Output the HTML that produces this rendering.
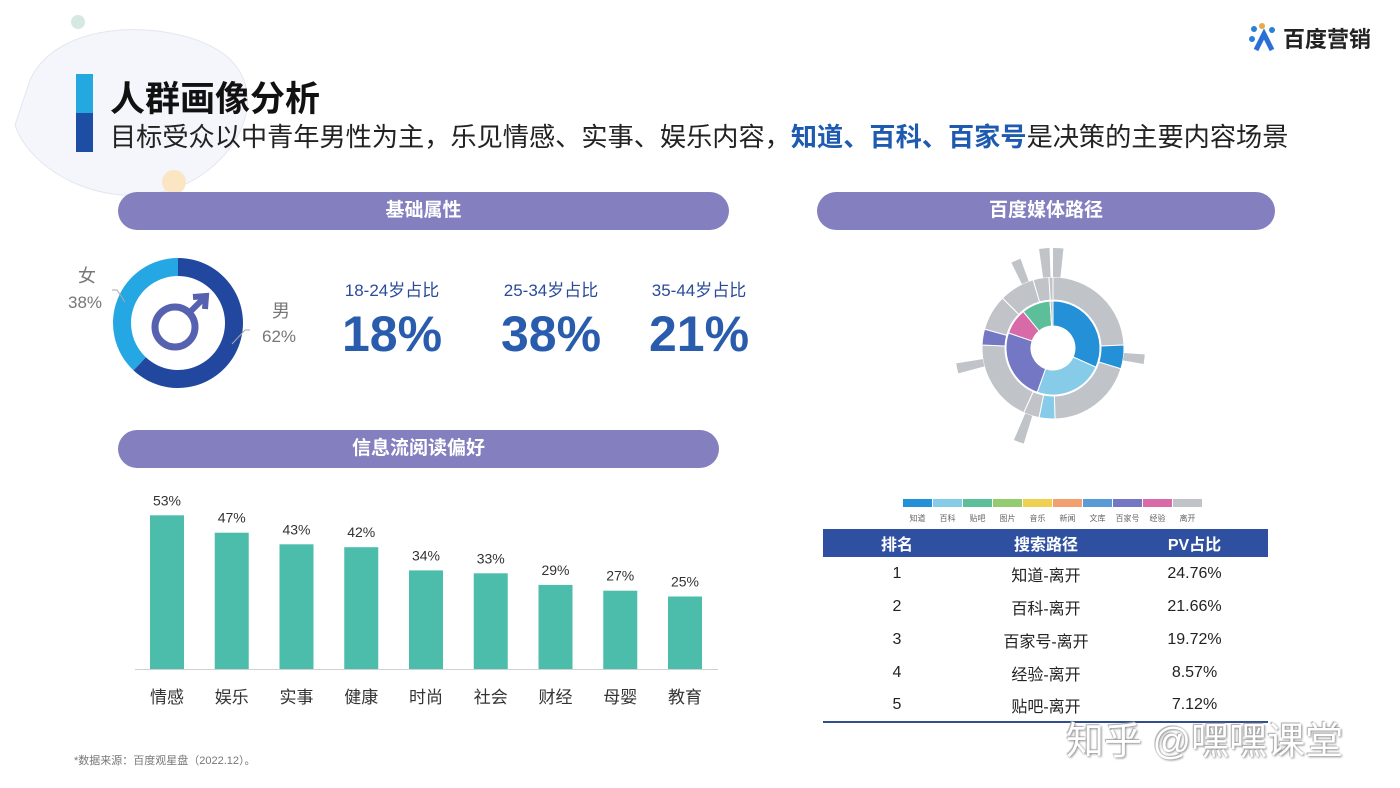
<!DOCTYPE html>
<html><head><meta charset="utf-8">
<style>
*{margin:0;padding:0;box-sizing:border-box}
body{width:1400px;height:788px;position:relative;background:#fff;font-family:"Liberation Sans","Noto Sans CJK SC",sans-serif;overflow:hidden}
.abs{position:absolute}
.pill{position:absolute;height:38px;border-radius:19px;background:#8480bf;color:#fff;font-weight:bold;font-size:19px;text-align:center;line-height:38px}
.age-l{position:absolute;font-size:17px;color:#2a4b9b;width:160px;text-align:center}
.age-v{position:absolute;font-size:50px;font-weight:bold;color:#2a5cad;width:160px;text-align:center}
table{border-collapse:collapse}
</style></head><body>
<svg class="abs" style="left:0;top:0" width="340" height="200">
<path d="M30,80 C60,15 180,20 225,55 C275,95 235,170 170,190 C100,210 30,170 15,125 Z" fill="#f5f6fb" stroke="#e4e6f0"/>
<circle cx="78" cy="22" r="7" fill="#d6e8e2"/>
<circle cx="174" cy="182" r="12" fill="#fbe6c4"/>
</svg>
<div class="abs" style="left:76px;top:74px;width:17px;height:39px;background:#23a8e0"></div>
<div class="abs" style="left:76px;top:113px;width:17px;height:39px;background:#1e4ea3"></div>
<div class="abs" style="left:110px;top:71px;font-size:35px;font-weight:bold;color:#111">人群画像分析</div>
<div class="abs" style="left:110px;top:116px;font-size:26.2px;color:#222;white-space:nowrap">目标受众以中青年男性为主，乐见情感、实事、娱乐内容，<b style="color:#1e5bb0">知道、百科、百家号</b>是决策的主要内容场景</div>
<div class="abs" style="left:1248px;top:22px;width:32px;height:30px">
<svg width="32" height="30"><circle cx="6" cy="7" r="3" fill="#2a7fd8"/><circle cx="14" cy="4" r="3" fill="#e7a94a"/><circle cx="24" cy="8" r="3" fill="#2a7fd8"/><circle cx="4" cy="17" r="3" fill="#2a7fd8"/><path d="M8,28 L16,12 L24,28" stroke="#2a6fd8" stroke-width="5" fill="none"/></svg></div>
<div class="abs" style="left:1283px;top:22px;font-size:22px;font-weight:bold;color:#222">百度营销</div>

<div class="pill" style="left:118px;top:192px;width:611px">基础属性</div>
<div class="pill" style="left:817px;top:192px;width:458px">百度媒体路径</div>
<div class="pill" style="left:118px;top:430px;width:601px">信息流阅读偏好</div>

<svg class="abs" style="left:60px;top:250px" width="260" height="150" id="donut"></svg>
<div class="abs" style="left:78px;top:262px;font-size:18px;color:#777">女</div>
<div class="abs" style="left:68px;top:293px;font-size:17px;color:#777">38%</div>
<div class="abs" style="left:272px;top:297px;font-size:18px;color:#777">男</div>
<div class="abs" style="left:262px;top:327px;font-size:17px;color:#777">62%</div>

<div class="age-l" style="left:312px;top:276px">18-24岁占比</div>
<div class="age-v" style="left:312px;top:305px">18%</div>
<div class="age-l" style="left:471px;top:276px">25-34岁占比</div>
<div class="age-v" style="left:471px;top:305px">38%</div>
<div class="age-l" style="left:619px;top:276px">35-44岁占比</div>
<div class="age-v" style="left:619px;top:305px">21%</div>

<svg class="abs" style="left:0;top:470px" width="760" height="250" id="bars"></svg>

<svg class="abs" style="left:920px;top:240px" width="280" height="230" id="sun"></svg>
<svg class="abs" style="left:900px;top:496px" width="310" height="30" id="legend"></svg>

<table class="abs" style="left:823px;top:529px;width:445px;font-size:16px;color:#222">
<tr style="background:#2f4fa0;color:#fff;font-weight:bold;height:28px"><td style="width:148px;text-align:center">排名</td><td style="width:150px;text-align:center">搜索路径</td><td style="text-align:center">PV占比</td></tr>
<tr style="height:33px"><td align="center">1</td><td align="center">知道-离开</td><td align="center">24.76%</td></tr>
<tr style="height:33px"><td align="center">2</td><td align="center">百科-离开</td><td align="center">21.66%</td></tr>
<tr style="height:33px"><td align="center">3</td><td align="center">百家号-离开</td><td align="center">19.72%</td></tr>
<tr style="height:33px"><td align="center">4</td><td align="center">经验-离开</td><td align="center">8.57%</td></tr>
<tr style="height:33px;border-bottom:2px solid #2f4f8f"><td align="center">5</td><td align="center">贴吧-离开</td><td align="center">7.12%</td></tr>
</table>
<div class="abs" style="left:1066px;top:710px;font-size:38px;color:#fff;text-shadow:1px 1px 2px #888,-1px -1px 1px #aaa;white-space:nowrap">知乎 @嘿嘿课堂</div>
<div class="abs" style="left:74px;top:752px;font-size:11px;color:#777">*数据来源：百度观星盘（2022.12）。</div>

<script>
const NS="http://www.w3.org/2000/svg";
function mk(p,t,a){const e=document.createElementNS(NS,t);for(const k in a)e.setAttribute(k,a[k]);p.appendChild(e);return e;}
function arc(cx,cy,r0,r1,a0,a1){const f=(r,a)=>[cx+r*Math.sin(a*Math.PI/180),cy-r*Math.cos(a*Math.PI/180)];const l=a1-a0>180?1:0;const[p1,p2,p3,p4]=[f(r1,a0),f(r1,a1),f(r0,a1),f(r0,a0)];return `M${p1}A${r1},${r1} 0 ${l} 1 ${p2}L${p3}A${r0},${r0} 0 ${l} 0 ${p4}Z`;}

const genderLabels=["男","女"];
const genderValues=[62,38];
const genderColors=["#21489e","#24a7e2"];
const dn=document.getElementById('donut');
let a=0;
genderValues.forEach((v,i)=>{const s=v/100*360;const p=mk(dn,'path',{d:arc(118,73,47,65,a,a+s),fill:genderColors[i]});

a+=s;});
mk(dn,'circle',{cx:115,cy:77,r:20,fill:'none',stroke:'#5661b0','stroke-width':7});
mk(dn,'path',{d:'M129,63 L143,49 M133,47 L146,46 L145,59',stroke:'#5661b0','stroke-width':6,fill:'none'});
mk(dn,'path',{d:'M52,40 L57,40 L65,52',stroke:'#aaa',fill:'none'});
mk(dn,'path',{d:'M190,80 L185,80 L172,94',stroke:'#aaa',fill:'none'});

const categories=["情感","娱乐","实事","健康","时尚","社会","财经","母婴","教育"];
const values=[53,47,43,42,34,33,29,27,25];
const bs=document.getElementById('bars');
const base=199, x0=167, step=64.75, yScale=v=>v*2.9;
mk(bs,'line',{x1:135,x2:718,y1:base+0.5,y2:base+0.5,stroke:'#d0d0d0'});
categories.forEach((c,i)=>{const cx=x0+i*step;const h=yScale(values[i]);
const r=mk(bs,'rect',{x:cx-17,y:base-h,width:34,height:h,fill:'#4dbdab'});


const t=mk(bs,'text',{x:cx,y:base-h-10,'text-anchor':'middle','font-size':14,fill:'#333'});t.textContent=values[i]+'%';


const l=mk(bs,'text',{x:cx,y:base+34,'text-anchor':'middle','font-size':17,fill:'#333'});l.textContent=c;

});

const legendNames=["知道","百科","贴吧","图片","音乐","新闻","文库","百家号","经验","离开"];
const legendColors=["#2490d8","#86cbe8","#5cbf9a","#92cc6e","#f0d050","#f2a070","#5a9ad6","#7478c4","#d86aa8","#c0c3c8"];
const innerNames=["知道","百科","百家号","经验","贴吧","离开"];
const innerValues=[32,24,25,9,10,1];
const outerNames=["离开","知道","离开","百科","离开","离开","百家号","离开","离开","离开","离开"];
const outerValues=[27,6,22,4,4,21,4,9,9,4,1];
const sun=document.getElementById('sun');
const scx=133,scy=108;
const col=n=>legendColors[legendNames.indexOf(n)];
let tot=innerValues.reduce((s,v)=>s+v,0);a=0;
innerValues.forEach((v,i)=>{const s=v/tot*360;const p=mk(sun,'path',{d:arc(scx,scy,22,47,a,a+s),fill:col(innerNames[i]),stroke:'#fff','stroke-width':1});

a+=s;});
tot=outerValues.reduce((s,v)=>s+v,0);a=0;
outerValues.forEach((v,i)=>{const s=v/tot*360;const p=mk(sun,'path',{d:arc(scx,scy,48,71,a,a+s),fill:col(outerNames[i]),stroke:'#fff','stroke-width':1});

a+=s;});
[[97,92],[258,98],[200,100],[337,95],[355,100],[3,100]].forEach(([ang,r])=>{const p=mk(sun,'path',{d:arc(scx,scy,71,r,ang-3,ang+3),fill:'#c0c3c8'});

});

const lg=document.getElementById('legend');
legendNames.forEach((n,i)=>{const x=3+i*30;
const r=mk(lg,'rect',{x:x,y:3,width:29,height:8,fill:legendColors[i]});


const t=mk(lg,'text',{x:x+14.5,y:25,'text-anchor':'middle','font-size':8,fill:'#666'});t.textContent=n;

});
</script>
</body></html>
